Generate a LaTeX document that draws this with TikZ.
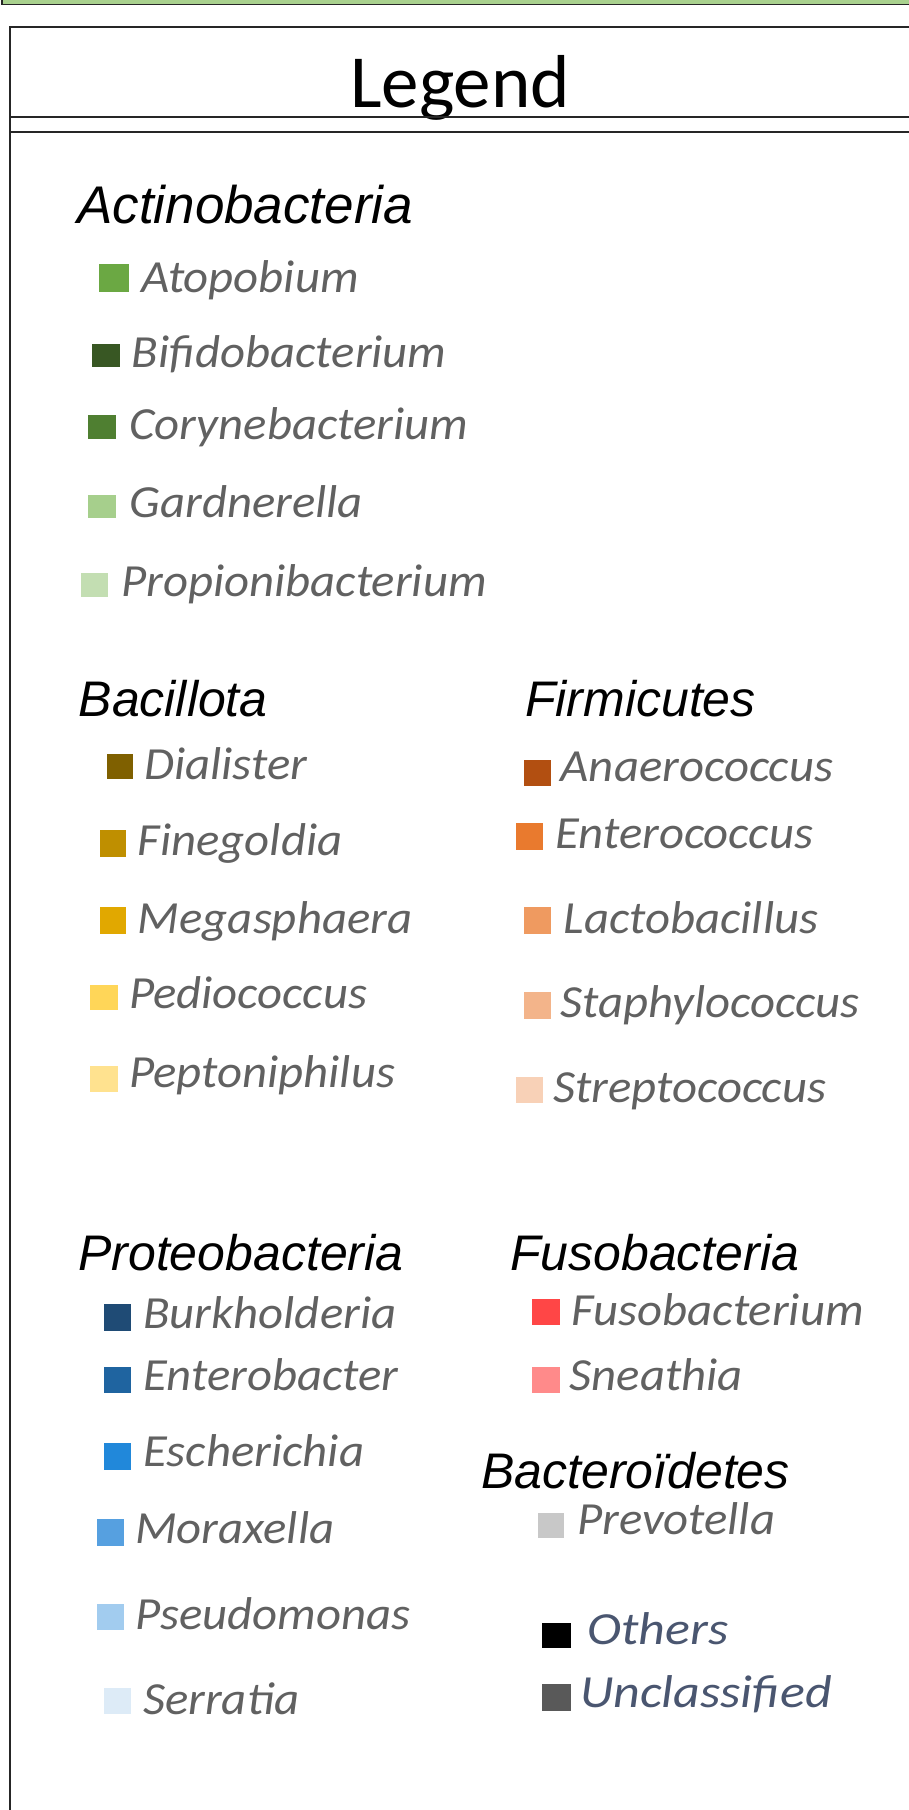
\documentclass[tikz,border=0pt]{standalone}
\usepackage{fontspec}
\setmainfont{Carlito}
\newfontfamily\phylumfont{Liberation Sans}
\newfontfamily\genusfont{Carlito}[FakeStretch=1.06]
\newfontfamily\restfont{Carlito}[FakeStretch=1.13]

% swatch colours
\definecolor{barGreen}{HTML}{A9D18E}
\definecolor{cAtopobium}{HTML}{6BA843}
\definecolor{cBifido}{HTML}{385723}
\definecolor{cCoryne}{HTML}{4F7F31}
\definecolor{cGardnerella}{HTML}{A6CF8C}
\definecolor{cPropioni}{HTML}{C3DEB2}
\definecolor{cDialister}{HTML}{7F6000}
\definecolor{cFinegoldia}{HTML}{BF8F00}
\definecolor{cMegasphaera}{HTML}{E1A800}
\definecolor{cPediococcus}{HTML}{FFD658}
\definecolor{cPeptoniphilus}{HTML}{FFE28F}
\definecolor{cAnaerococcus}{HTML}{B24F11}
\definecolor{cEnterococcus}{HTML}{E97A2E}
\definecolor{cLactobacillus}{HTML}{EF9A60}
\definecolor{cStaphylococcus}{HTML}{F3B48A}
\definecolor{cStreptococcus}{HTML}{F8D1B7}
\definecolor{cBurkholderia}{HTML}{1F4B75}
\definecolor{cEnterobacter}{HTML}{1F64A0}
\definecolor{cEscherichia}{HTML}{2188DA}
\definecolor{cMoraxella}{HTML}{56A0E0}
\definecolor{cPseudomonas}{HTML}{A2CCEF}
\definecolor{cSerratia}{HTML}{DDEBF7}
\definecolor{cFusobacterium}{HTML}{FF4646}
\definecolor{cSneathia}{HTML}{FF8A8A}
\definecolor{cPrevotella}{HTML}{C8C8C8}
\definecolor{cOthers}{HTML}{000000}
\definecolor{cUnclassified}{HTML}{595959}
\definecolor{otherText}{HTML}{4A5670}

\begin{document}
\begin{tikzpicture}[
x=1pt,y=1pt,
rule/.style={draw=black!85,line width=2pt},
phylum/.style={font=\phylumfont\itshape\fontsize{50}{60}\selectfont,inner sep=0pt,anchor=base west},
genus/.style={font=\genusfont\itshape\fontsize{46}{55}\selectfont,text=black!62,inner sep=0pt,anchor=base west},
swatch/.style={inner sep=0pt,outer sep=0pt,minimum width=27pt,minimum height=26pt,anchor=south west}
]

\useasboundingbox (0,0) rectangle (909,-1810);

%%%%%%%%%%%%%%%%%%%%%%%%%%%%%%%%%%%%%%%%%%%%%%%%%%%%%%%%%%%%
% FRAME
%%%%%%%%%%%%%%%%%%%%%%%%%%%%%%%%%%%%%%%%%%%%%%%%%%%%%%%%%%%%

\node[
draw=black!85,
fill=barGreen,
line width=1.5pt,
outer sep=0pt,
minimum width=1000pt,
minimum height=30pt,
anchor=south west
](topbar) at (2,-4.5) {};

\node[
draw=black!85,
line width=2pt,
outer sep=0pt,
minimum width=1000pt,
minimum height=1900pt,
anchor=north west
](frame) at (10,-27) {};

\node[font=\fontsize{75}{80}\selectfont,inner sep=0pt,anchor=base]
(legend) at ([xshift=450pt,yshift=-80.4pt]frame.north west) {Legend};

\draw[rule] ([yshift=-89.7pt]frame.north west) -- ++(1000,0);
\draw[rule] ([yshift=-104.7pt]frame.north west) -- ++(1000,0);

%%%%%%%%%%%%%%%%%%%%%%%%%%%%%%%%%%%%%%%%%%%%%%%%%%%%%%%%%%%%
% Actinobacteria
%%%%%%%%%%%%%%%%%%%%%%%%%%%%%%%%%%%%%%%%%%%%%%%%%%%%%%%%%%%%

\node[phylum,font=\phylumfont\itshape\fontsize{53}{60}\selectfont] (actino) at ([xshift=67pt,yshift=-196pt]frame.north west) {Actinobacteria};

\node[swatch,fill=cAtopobium,minimum width=30pt,minimum height=28pt] (atopobium-sq) at ([xshift=89pt,yshift=-265.3pt]frame.north west) {};
\node[genus] (atopobium) at ([xshift=12pt,yshift=0pt]atopobium-sq.south east) {Atopobium};

\node[swatch,fill=cBifido,minimum width=28pt,minimum height=23pt] (bifido-sq) at ([xshift=81.7pt,yshift=-340.3pt]frame.north west) {};
\node[genus] (bifido) at ([xshift=12pt,yshift=0pt]bifido-sq.south east) {Bifidobacterium};

\node[swatch,fill=cCoryne,minimum width=28pt,minimum height=24pt] (coryne-sq) at ([xshift=78.3pt,yshift=-412pt]frame.north west) {};
\node[genus] (coryne) at ([xshift=13pt,yshift=0pt]coryne-sq.south east) {Corynebacterium};

\node[swatch,fill=cGardnerella,minimum width=28pt,minimum height=23pt] (gardnerella-sq) at ([xshift=78.3pt,yshift=-490.7pt]frame.north west) {};
\node[genus] (gardnerella) at ([xshift=13pt,yshift=0pt]gardnerella-sq.south east) {Gardnerella};

\node[swatch,fill=cPropioni,minimum width=27pt,minimum height=24pt] (propioni-sq) at ([xshift=71pt,yshift=-569.7pt]frame.north west) {};
\node[genus] (propioni) at ([xshift=13pt,yshift=0pt]propioni-sq.south east) {Propionibacterium};

%%%%%%%%%%%%%%%%%%%%%%%%%%%%%%%%%%%%%%%%%%%%%%%%%%%%%%%%%%%%
% Bacillota
%%%%%%%%%%%%%%%%%%%%%%%%%%%%%%%%%%%%%%%%%%%%%%%%%%%%%%%%%%%%

\node[phylum] (bacillota) at ([xshift=68.5pt,yshift=-689pt]frame.north west) {Bacillota};

\node[swatch,fill=cDialister,minimum width=26pt,minimum height=25pt] (dialister-sq) at ([xshift=97pt,yshift=-752pt]frame.north west) {};
\node[genus] (dialister) at ([xshift=11pt,yshift=0pt]dialister-sq.south east) {Dialister};

\node[swatch,fill=cFinegoldia,minimum width=26pt,minimum height=27pt] (finegoldia-sq) at ([xshift=89.7pt,yshift=-829.7pt]frame.north west) {};
\node[genus] (finegoldia) at ([xshift=12pt,yshift=1pt]finegoldia-sq.south east) {Finegoldia};

\node[swatch,fill=cMegasphaera,minimum width=26pt,minimum height=27pt] (megasphaera-sq) at ([xshift=89.7pt,yshift=-907pt]frame.north west) {};
\node[genus] (megasphaera) at ([xshift=12pt,yshift=1pt]megasphaera-sq.south east) {Megasphaera};

\node[swatch,fill=cPediococcus,minimum width=28pt,minimum height=25pt] (pediococcus-sq) at ([xshift=80pt,yshift=-983pt]frame.north west) {};
\node[genus] (pediococcus) at ([xshift=11pt,yshift=2pt]pediococcus-sq.south east) {Pediococcus};

\node[swatch,fill=cPeptoniphilus,minimum width=28pt,minimum height=26pt] (peptoniphilus-sq) at ([xshift=80pt,yshift=-1065pt]frame.north west) {};
\node[genus] (peptoniphilus) at ([xshift=11pt,yshift=5pt]peptoniphilus-sq.south east) {Peptoniphilus};

%%%%%%%%%%%%%%%%%%%%%%%%%%%%%%%%%%%%%%%%%%%%%%%%%%%%%%%%%%%%
% Firmicutes
%%%%%%%%%%%%%%%%%%%%%%%%%%%%%%%%%%%%%%%%%%%%%%%%%%%%%%%%%%%%

\node[phylum] (firmicutes) at ([xshift=515pt,yshift=-689pt]frame.north west) {Firmicutes};

\node[swatch,fill=cAnaerococcus] (anaerococcus-sq) at ([xshift=513.5pt,yshift=-758.7pt]frame.north west) {};
\node[genus] (anaerococcus) at ([xshift=10pt,yshift=4pt]anaerococcus-sq.south east) {Anaerococcus};

\node[swatch,fill=cEnterococcus,minimum height=27pt] (enterococcus-sq) at ([xshift=506pt,yshift=-823pt]frame.north west) {};
\node[genus] (enterococcus) at ([xshift=12pt,yshift=2pt]enterococcus-sq.south east) {Enterococcus};

\node[swatch,fill=cLactobacillus,minimum height=27pt] (lactobacillus-sq) at ([xshift=513.5pt,yshift=-907pt]frame.north west) {};
\node[genus] (lactobacillus) at ([xshift=13pt,yshift=1pt]lactobacillus-sq.south east) {Lactobacillus};

\node[swatch,fill=cStaphylococcus,minimum height=27pt] (staphylococcus-sq) at ([xshift=513.5pt,yshift=-992pt]frame.north west) {};
\node[genus] (staphylococcus) at ([xshift=10pt,yshift=2pt]staphylococcus-sq.south east) {Staphylococcus};

\node[swatch,fill=cStreptococcus] (streptococcus-sq) at ([xshift=506pt,yshift=-1076pt]frame.north west) {};
\node[genus] (streptococcus) at ([xshift=10pt,yshift=1pt]streptococcus-sq.south east) {Streptococcus};

%%%%%%%%%%%%%%%%%%%%%%%%%%%%%%%%%%%%%%%%%%%%%%%%%%%%%%%%%%%%
% Proteobacteria
%%%%%%%%%%%%%%%%%%%%%%%%%%%%%%%%%%%%%%%%%%%%%%%%%%%%%%%%%%%%

\node[phylum] (proteo) at ([xshift=68pt,yshift=-1243pt]frame.north west) {Proteobacteria};

\node[swatch,fill=cBurkholderia,minimum height=27pt] (burkholderia-sq) at ([xshift=94pt,yshift=-1304pt]frame.north west) {};
\node[genus] (burkholderia) at ([xshift=12pt,yshift=3pt]burkholderia-sq.south east) {Burkholderia};

\node[swatch,fill=cEnterobacter] (enterobacter-sq) at ([xshift=94pt,yshift=-1365.6pt]frame.north west) {};
\node[genus] (enterobacter) at ([xshift=12pt,yshift=2pt]enterobacter-sq.south east) {Enterobacter};

\node[swatch,fill=cEscherichia,minimum height=27pt] (escherichia-sq) at ([xshift=94pt,yshift=-1443pt]frame.north west) {};
\node[genus] (escherichia) at ([xshift=12pt,yshift=4pt]escherichia-sq.south east) {Escherichia};

\node[swatch,fill=cMoraxella,minimum height=27pt] (moraxella-sq) at ([xshift=86.8pt,yshift=-1519pt]frame.north west) {};
\node[genus] (moraxella) at ([xshift=11pt,yshift=3pt]moraxella-sq.south east) {Moraxella};

\node[swatch,fill=cPseudomonas] (pseudomonas-sq) at ([xshift=86.8pt,yshift=-1603pt]frame.north west) {};
\node[genus] (pseudomonas) at ([xshift=11pt,yshift=1pt]pseudomonas-sq.south east) {Pseudomonas};

\node[swatch,fill=cSerratia] (serratia-sq) at ([xshift=94pt,yshift=-1687pt]frame.north west) {};
\node[genus] (serratia) at ([xshift=12pt,yshift=0pt]serratia-sq.south east) {Serratia};

%%%%%%%%%%%%%%%%%%%%%%%%%%%%%%%%%%%%%%%%%%%%%%%%%%%%%%%%%%%%
% Fusobacteria / Bacteroidetes / others
%%%%%%%%%%%%%%%%%%%%%%%%%%%%%%%%%%%%%%%%%%%%%%%%%%%%%%%%%%%%

\node[phylum] (fuso) at ([xshift=500pt,yshift=-1243pt]frame.north west) {Fusobacteria};

\node[swatch,fill=cFusobacterium,minimum width=28pt] (fusobacterium-sq) at ([xshift=521.6pt,yshift=-1298pt]frame.north west) {};
\node[genus] (fusobacterium) at ([xshift=12pt,yshift=0pt]fusobacterium-sq.south east) {Fusobacterium};

\node[swatch,fill=cSneathia,minimum width=28pt] (sneathia-sq) at ([xshift=521.6pt,yshift=-1365.6pt]frame.north west) {};
\node[genus] (sneathia) at ([xshift=10pt,yshift=2pt]sneathia-sq.south east) {Sneathia};

\node[phylum] (bactero) at ([xshift=471pt,yshift=-1461pt]frame.north west) {Bacteroïdetes};

\node[swatch,fill=cPrevotella,minimum width=26pt,minimum height=25pt] (prevotella-sq) at ([xshift=528pt,yshift=-1510.7pt]frame.north west) {};
\node[genus] (prevotella) at ([xshift=13pt,yshift=3pt]prevotella-sq.south east) {Prevotella};

\node[swatch,fill=cOthers,minimum width=29pt,minimum height=25pt] (others-sq) at ([xshift=532pt,yshift=-1620.5pt]frame.north west) {};
\node[genus,font=\restfont\itshape\fontsize{46}{55}\selectfont,text=otherText] (others) at ([xshift=16pt,yshift=3pt]others-sq.south east) {Others};

\node[swatch,fill=cUnclassified,minimum width=29pt,minimum height=27pt] (unclassified-sq) at ([xshift=532pt,yshift=-1683.5pt]frame.north west) {};
\node[genus,font=\restfont\itshape\fontsize{46}{55}\selectfont,text=otherText] (unclassified) at ([xshift=9pt,yshift=3pt]unclassified-sq.south east) {Unclassified};

\end{tikzpicture}
\end{document}
